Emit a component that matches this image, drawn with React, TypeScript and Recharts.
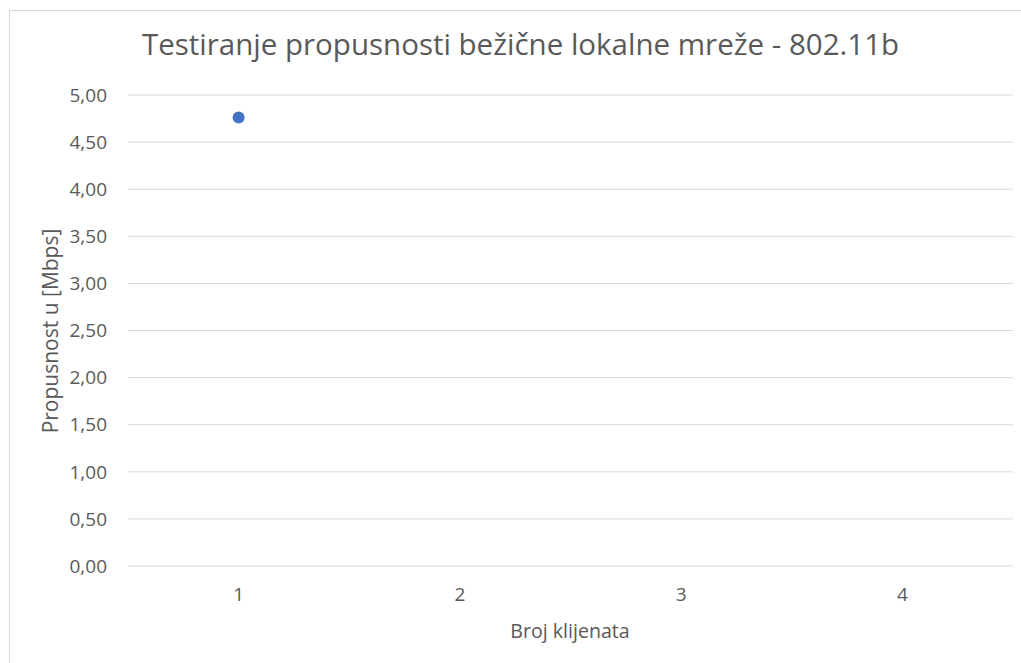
import React from 'react';
import { ComposedChart, Line, XAxis, YAxis, CartesianGrid } from 'recharts';

const categories: string[] = ['1', '2', '3', '4'];
const throughput: (number | null)[] = [4.76, null, null, null];
const yTicks: number[] = [0, 0.5, 1, 1.5, 2, 2.5, 3, 3.5, 4, 4.5, 5];

const title = 'Testiranje propusnosti bežične lokalne mreže - 802.11b';
const xTitle = 'Broj klijenata';
const yTitle = 'Propusnost u [Mbps]';

const data = categories.map((c, i) => ({ k: c, v: throughput[i] }));

const FONT = '"Segoe UI", "Open Sans", sans-serif';
const TEXT = '#595959';

const fmt = (v: number) => v.toFixed(2).replace('.', ',');

export default function App() {
  return (
    <div style={{ position: 'absolute', left: 0, top: 0, width: 1021, height: 663, overflow: 'hidden', background: '#fff' }}>
      <div style={{ position: 'absolute', left: 9, top: 10, width: 1100, height: 700, border: '1px solid #d9d9d9', boxSizing: 'border-box' }} />
      <svg width={1021} height={663} style={{ position: 'absolute', left: 0, top: 0 }}>
        <text x={520.5} y={55} textAnchor="middle" fontFamily={FONT} fontSize={29.5} fill={TEXT}>{title}</text>
      </svg>
      <div style={{ position: 'absolute', left: 0, top: 0 }}>
        <ComposedChart width={1021} height={663} data={data} margin={{ top: 95, right: 8, bottom: 67, left: 0 }}>
          <CartesianGrid vertical={false} stroke="#d9d9d9" strokeWidth={1} />
          <XAxis
            dataKey="k"
            type="category"
            scale="band"
            height={30}
            axisLine={false}
            tickLine={false}
            tickSize={0}
            tickMargin={22}
            tick={{ fontFamily: FONT, fontSize: 19, fill: TEXT }}
            label={{
              content: () => (
                <text x={570} y={638} textAnchor="middle" fontFamily={FONT} fontSize={19.6} fill={TEXT}>{xTitle}</text>
              ),
            }}
          />
          <YAxis
            width={128}
            domain={[0, 5]}
            ticks={yTicks}
            interval={0}
            axisLine={false}
            tickLine={false}
            tickSize={0}
            tickMargin={21}
            tickFormatter={fmt}
            tick={{ fontFamily: FONT, fontSize: 19, fill: TEXT }}
            label={{
              content: () => (
                <text x={58} y={331} transform="rotate(-90 58 331)" textAnchor="middle" fontFamily={FONT} fontSize={21} fill={TEXT}>{yTitle}</text>
              ),
            }}
          />
          <Line
            dataKey="v"
            stroke="none"
            isAnimationActive={false}
            connectNulls={false}
            dot={{ r: 6, fill: '#4472C4', stroke: '#4472C4', strokeWidth: 0 }}
            activeDot={false}
          />
        </ComposedChart>
      </div>
    </div>
  );
}
